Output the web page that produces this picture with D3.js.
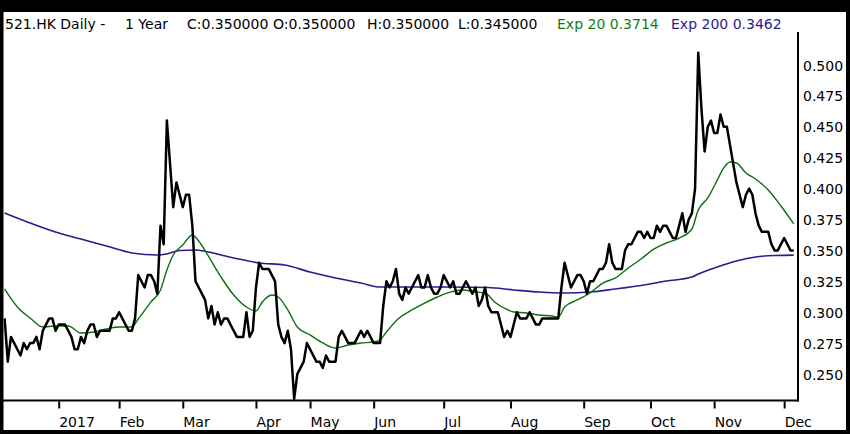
<!DOCTYPE html>
<html>
<head>
<meta charset="utf-8">
<script src="https://cdn.jsdelivr.net/npm/d3@7"></script>
<style>
  body { margin: 0; padding: 0; background: #000; }
  svg { display: block; }
  text { font-family: "DejaVu Sans", sans-serif; }
</style>
</head>
<body>
<svg id="chart" width="850" height="434"></svg>
<script>
// daily closes, one per trading day (Dec 2016 .. Dec 2017)
const closes = [
  0.295, 0.26, 0.28, 0.275, 0.27, 0.265, 0.275, 0.27, 0.275, 0.275,
  0.28, 0.27, 0.285, 0.29, 0.295, 0.295, 0.285, 0.29, 0.29, 0.29,
  0.285, 0.28, 0.27, 0.27, 0.28, 0.275, 0.285, 0.29, 0.29, 0.28,
  0.285, 0.285, 0.285, 0.285, 0.295, 0.295, 0.30, 0.295, 0.29, 0.285,
  0.285, 0.295, 0.33, 0.325, 0.32, 0.33, 0.33, 0.325, 0.315, 0.37,
  0.355, 0.455, 0.42, 0.385, 0.405, 0.395, 0.385, 0.395, 0.395, 0.37,
  0.325, 0.32, 0.315, 0.31, 0.295, 0.305, 0.29, 0.30, 0.29, 0.295,
  0.295, 0.29, 0.285, 0.28, 0.28, 0.28, 0.30, 0.28, 0.285, 0.32,
  0.34, 0.335, 0.335, 0.335, 0.33, 0.325, 0.29, 0.28, 0.275, 0.285,
  0.27, 0.23, 0.25, 0.255, 0.26, 0.275, 0.27, 0.265, 0.26, 0.26,
  0.255, 0.265, 0.26, 0.26, 0.26, 0.28, 0.285, 0.28, 0.275, 0.275,
  0.275, 0.28, 0.285, 0.28, 0.285, 0.28, 0.275, 0.275, 0.275, 0.305,
  0.325, 0.32, 0.325, 0.335, 0.315, 0.31, 0.32, 0.315, 0.32, 0.325,
  0.33, 0.32, 0.32, 0.33, 0.32, 0.315, 0.315, 0.32, 0.33, 0.325,
  0.32, 0.325, 0.315, 0.315, 0.32, 0.325, 0.32, 0.315, 0.32, 0.305,
  0.31, 0.32, 0.305, 0.30, 0.30, 0.30, 0.29, 0.28, 0.285, 0.28,
  0.29, 0.30, 0.295, 0.295, 0.295, 0.30, 0.295, 0.29, 0.29, 0.295,
  0.295, 0.295, 0.295, 0.295, 0.295, 0.32, 0.34, 0.33, 0.32, 0.325,
  0.33, 0.33, 0.325, 0.315, 0.325, 0.325, 0.33, 0.335, 0.335, 0.34,
  0.355, 0.34, 0.335, 0.335, 0.335, 0.35, 0.355, 0.355, 0.36, 0.365,
  0.365, 0.36, 0.365, 0.36, 0.36, 0.37, 0.365, 0.37, 0.37, 0.365,
  0.36, 0.36, 0.37, 0.38, 0.365, 0.375, 0.38, 0.40, 0.51, 0.465,
  0.43, 0.45, 0.455, 0.445, 0.445, 0.46, 0.45, 0.45, 0.435, 0.42,
  0.405, 0.395, 0.385, 0.395, 0.40, 0.395, 0.38, 0.37, 0.365, 0.365,
  0.365, 0.355, 0.35, 0.35, 0.355, 0.36, 0.355, 0.35, 0.35
];

// exp 20 moving average, read at these trading days
const ema20Days = [0, 4, 8, 12, 16, 20, 24, 28, 32, 36, 40, 42, 46, 49, 51, 53, 56, 59, 61, 64,
  68, 72, 76, 79, 81, 84, 86, 89, 92, 96, 100, 104, 108, 112, 116, 118, 120, 124, 128, 132,
  136, 140, 144, 148, 151, 154, 157, 160, 164, 168, 172, 174, 176, 180, 184, 188, 192, 196, 200, 204,
  208, 212, 216, 218, 221, 224, 226, 228, 230, 233, 236, 240, 244, 248];
const ema20 = [0.3188, 0.3042, 0.2953, 0.2880, 0.2888, 0.2888, 0.2832, 0.2840, 0.2864, 0.2880,
  0.2880, 0.2945, 0.3083, 0.3180, 0.3341, 0.3463, 0.3544, 0.3625, 0.3576, 0.3455,
  0.3285, 0.3139, 0.3042, 0.3010, 0.3083, 0.3139, 0.3123, 0.3018, 0.2880, 0.2816,
  0.2751, 0.2710, 0.2735, 0.2751, 0.2759, 0.2775, 0.2840, 0.2953, 0.3018, 0.3074,
  0.3123, 0.3163, 0.3180, 0.3163, 0.3155, 0.3083, 0.3034, 0.3002, 0.2994, 0.2977,
  0.2969, 0.2961, 0.3042, 0.3099, 0.3155, 0.3236, 0.3277, 0.3358, 0.3430, 0.3511,
  0.3560, 0.3600, 0.3673, 0.3827, 0.3924, 0.4070, 0.4167, 0.4215, 0.4207, 0.4126,
  0.4078, 0.3989, 0.3859, 0.3714];

// exp 200 moving average
const ema200Days = [0, 8, 16, 24, 32, 40, 48, 51, 55, 60, 64, 72, 80, 88, 96, 104, 112, 118, 128, 140,
  152, 160, 168, 176, 184, 192, 200, 208, 216, 218, 224, 230, 236, 242, 248];
const ema200 = [0.3803, 0.3722, 0.3649, 0.3592, 0.3536, 0.3479, 0.3463, 0.3471, 0.3499, 0.3503,
  0.3487, 0.3439, 0.3398, 0.3382, 0.3325, 0.3277, 0.3236, 0.3204, 0.3204, 0.3204,
  0.3200, 0.3180, 0.3163, 0.3155, 0.3163, 0.3188, 0.3216, 0.3252, 0.3285, 0.3309,
  0.3366, 0.3414, 0.3447, 0.3459, 0.3462];

// first trading day of each month
const monthDays = [17, 36, 56, 79, 96, 116, 138, 159, 182, 203, 223, 245];
const monthLabels = ["2017", "Feb", "Mar", "Apr", "May", "Jun", "Jul", "Aug", "Sep", "Oct", "Nov", "Dec"];

const priceTicks = [0.250, 0.275, 0.300, 0.325, 0.350, 0.375, 0.400, 0.425, 0.450, 0.475, 0.500];

const svg = d3.select("#chart");

// outer black frame, white inside
svg.append("rect").attr("x", 0).attr("y", 0).attr("width", 850).attr("height", 434).attr("fill", "#000");
svg.append("rect").attr("x", 3.5).attr("y", 12).attr("width", 842.5).attr("height", 418).attr("fill", "#fff");

const x = d3.scaleLinear().domain([0, closes.length - 1]).range([4.6, 793.7]);
const y = d3.scaleLinear().domain([0.25, 0.5]).range([374, 65]);

const plotRight = 798;
const plotBottom = 400.5;

svg.append("clipPath").attr("id", "plotclip")
  .append("rect").attr("x", 3.5).attr("y", 32).attr("width", plotRight - 3.5).attr("height", plotBottom - 32);

const plot = svg.append("g").attr("clip-path", "url(#plotclip)");

const lineClose = d3.line()
  .x((d, i) => x(i))
  .y(d => y(d));

const lineEma = days => d3.line()
  .x((d, i) => x(days[i]))
  .y(d => y(d))
  .curve(d3.curveMonotoneX);

plot.append("path")
  .datum(ema200)
  .attr("d", lineEma(ema200Days))
  .attr("fill", "none")
  .attr("stroke", "#2d1b8a")
  .attr("stroke-width", 1.6);

plot.append("path")
  .datum(ema20)
  .attr("d", lineEma(ema20Days))
  .attr("fill", "none")
  .attr("stroke", "#0d6e12")
  .attr("stroke-width", 1.4);

plot.append("path")
  .datum(closes)
  .attr("d", lineClose)
  .attr("fill", "none")
  .attr("stroke", "#000")
  .attr("stroke-width", 2.5)
  .attr("stroke-linejoin", "round");

// plot frame: bottom and right edges
svg.append("line")
  .attr("x1", 3).attr("x2", plotRight + 1)
  .attr("y1", plotBottom).attr("y2", plotBottom)
  .attr("stroke", "#000").attr("stroke-width", 2);
svg.append("line")
  .attr("x1", plotRight).attr("x2", plotRight)
  .attr("y1", 32).attr("y2", plotBottom + 1)
  .attr("stroke", "#000").attr("stroke-width", 2);

// x axis
const xAxis = d3.axisBottom(x)
  .tickValues(monthDays)
  .tickFormat((d, i) => monthLabels[i])
  .tickSize(7)
  .tickPadding(0);

const xg = svg.append("g")
  .attr("transform", "translate(0," + (plotBottom + 1) + ")")
  .call(xAxis);
xg.select(".domain").remove();
xg.selectAll(".tick line").attr("stroke", "#000").attr("stroke-width", 2);
xg.selectAll(".tick text")
  .attr("text-anchor", "start")
  .attr("x", 0)
  .attr("y", 25)
  .attr("dy", null)
  .attr("font-size", "14px")
  .attr("font-family", "DejaVu Sans")
  .attr("fill", "#000");

// y axis on the right
const yAxis = d3.axisRight(y)
  .tickValues(priceTicks)
  .tickFormat(d3.format(".3f"))
  .tickSize(0)
  .tickPadding(5);

const yg = svg.append("g")
  .attr("transform", "translate(" + plotRight + ",0)")
  .call(yAxis);
yg.select(".domain").remove();
yg.selectAll(".tick text")
  .attr("font-size", "14px")
  .attr("font-family", "DejaVu Sans")
  .attr("fill", "#000")
  .attr("dy", "0.36em");

// header line
const header = svg.append("text")
  .attr("x", 5)
  .attr("y", 29)
  .attr("font-size", "14px")
  .attr("font-family", "DejaVu Sans");

header.append("tspan").attr("x", 5).attr("fill", "#000").text("521.HK Daily -");
header.append("tspan").attr("x", 125).attr("fill", "#000").text("1 Year");
header.append("tspan").attr("x", 187).attr("fill", "#000").text("C:0.350000");
header.append("tspan").attr("x", 273).attr("fill", "#000").text("O:0.350000");
header.append("tspan").attr("x", 367).attr("fill", "#000").text("H:0.350000");
header.append("tspan").attr("x", 458).attr("fill", "#000").text("L:0.345000");
header.append("tspan").attr("x", 557).attr("fill", "#137a13").text("Exp 20 0.3714");
header.append("tspan").attr("x", 671).attr("fill", "#2d1b8a").text("Exp 200 0.3462");
</script>
</body>
</html>
